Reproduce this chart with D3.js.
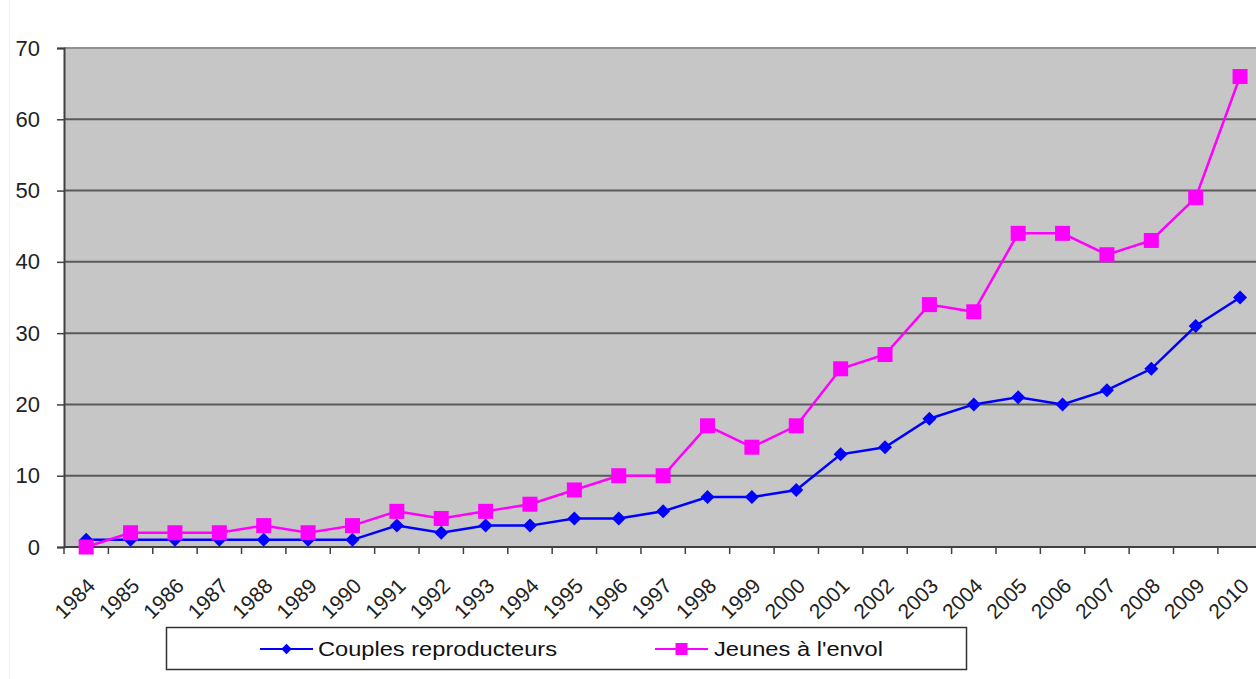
<!DOCTYPE html>
<html>
<head>
<meta charset="utf-8">
<script src="https://cdn.jsdelivr.net/npm/d3@7"></script>
<style>
	body { margin: 0; background: #fff; }
	svg { display: block; font-family: "Liberation Sans", Arial, sans-serif; }
</style>
</head>
<body>
<div id="chart"></div>
<script>
	// Data
	const years = ["1984", "1985", "1986", "1987", "1988", "1989", "1990", "1991", "1992", "1993", "1994", "1995", "1996", "1997", "1998", "1999", "2000", "2001", "2002", "2003", "2004", "2005", "2006", "2007", "2008", "2009", "2010"];
	const couples = [1, 1, 1, 1, 1, 1, 1, 3, 2, 3, 3, 4, 4, 5, 7, 7, 8, 13, 14, 18, 20, 21, 20, 22, 25, 31, 35];
	const jeunes = [0, 2, 2, 2, 3, 2, 3, 5, 4, 5, 6, 8, 10, 10, 17, 14, 17, 25, 27, 34, 33, 44, 44, 41, 43, 49, 66];
	const yTicks = [0, 10, 20, 30, 40, 50, 60, 70];

	const BLUE = "#0000FF";
	const MAGENTA = "#FF00FF";

	const width = 1256;
	const height = 679;
	const plot = { left: 64, top: 48, bottom: 547, step: 44.38 };

	const svg = d3.select("#chart")
		.append("svg")
		.attr("width", width)
		.attr("height", height);

	// faint frame line on the left
	svg.append("line")
		.attr("x1", 9.5).attr("x2", 9.5)
		.attr("y1", 0).attr("y2", height)
		.attr("stroke", "#f0f0f0");

	const x = d3.scaleBand()
		.domain(years)
		.range([plot.left, plot.left + plot.step * years.length]);
	const y = d3.scaleLinear().domain([0, 70]).range([plot.bottom, plot.top]);
	const cx = d => x(d) + x.bandwidth() / 2;

	// plot area
	svg.append("rect")
		.attr("x", plot.left)
		.attr("y", plot.top)
		.attr("width", width - plot.left)
		.attr("height", plot.bottom - plot.top)
		.attr("fill", "#C6C6C6");

	// gridlines
	svg.append("g")
		.selectAll("line")
		.data(yTicks.filter(v => v > 0))
		.join("line")
		.attr("x1", plot.left)
		.attr("x2", width)
		.attr("y1", d => y(d))
		.attr("y2", d => y(d))
		.attr("stroke", d => (d === 70 ? "#909090" : "#5a5a5a"))
		.attr("stroke-width", 2);

	// y axis
	const yAxis = svg.append("g")
		.attr("transform", `translate(${plot.left},0)`)
		.call(d3.axisLeft(y).tickValues(yTicks).tickSize(7).tickPadding(17));
	yAxis.select(".domain").attr("stroke", "#404040").attr("stroke-width", 2);
	yAxis.selectAll(".tick line").attr("stroke", "#404040").attr("stroke-width", 1.5);
	yAxis.selectAll(".tick text")
		.style("font-size", "22px")
		.attr("fill", "#222");

	// x axis: ticks sit between categories
	const xAxisG = svg.append("g");
	xAxisG.append("line")
		.attr("x1", plot.left).attr("x2", width)
		.attr("y1", plot.bottom).attr("y2", plot.bottom)
		.attr("stroke", "#404040").attr("stroke-width", 2);
	xAxisG.selectAll("line.tk")
		.data(years)
		.join("line")
		.attr("class", "tk")
		.attr("x1", d => x(d)).attr("x2", d => x(d))
		.attr("y1", plot.bottom).attr("y2", plot.bottom + 7)
		.attr("stroke", "#404040").attr("stroke-width", 1.5);
	xAxisG.selectAll("text")
		.data(years)
		.join("text")
		.attr("transform", d => `translate(${cx(d) + 5},${plot.bottom + 35}) rotate(-45)`)
		.attr("text-anchor", "end")
		.attr("dy", "0.35em")
		.style("font-size", "21px")
		.attr("fill", "#222")
		.text(d => d);

	// lines
	const line = d3.line().x((d, i) => cx(years[i])).y(d => y(d));

	svg.append("path")
		.datum(couples)
		.attr("fill", "none")
		.attr("stroke", BLUE)
		.attr("stroke-width", 2.5)
		.attr("d", line);

	svg.append("path")
		.datum(jeunes)
		.attr("fill", "none")
		.attr("stroke", MAGENTA)
		.attr("stroke-width", 2.5)
		.attr("d", line);

	const diamond = d3.symbol().type(d3.symbolDiamond2).size(125);

	svg.append("g")
		.selectAll("path")
		.data(couples)
		.join("path")
		.attr("d", diamond)
		.attr("transform", (d, i) => `translate(${cx(years[i])},${y(d)})`)
		.attr("fill", BLUE);

	svg.append("g")
		.selectAll("rect")
		.data(jeunes)
		.join("rect")
		.attr("x", (d, i) => cx(years[i]) - 7.5)
		.attr("y", d => y(d) - 7.5)
		.attr("width", 15)
		.attr("height", 15)
		.attr("fill", MAGENTA);

	// legend
	const legend = svg.append("g");
	legend.append("rect")
		.attr("x", 166.5).attr("y", 627.5)
		.attr("width", 800).attr("height", 42)
		.attr("fill", "#fff")
		.attr("stroke", "#333").attr("stroke-width", 1.5);

	const legendItems = [
		{ label: "Couples reproducteurs", color: BLUE, shape: "diamond", x0: 260, tx: 318, tw: 239 },
		{ label: "Jeunes à l'envol", color: MAGENTA, shape: "square", x0: 655, tx: 714, tw: 169 }
	];
	const ly = 649;
	legendItems.forEach(it => {
		legend.append("line")
			.attr("x1", it.x0).attr("x2", it.x0 + 53)
			.attr("y1", ly).attr("y2", ly)
			.attr("stroke", it.color).attr("stroke-width", 2);
		if (it.shape === "diamond") {
			legend.append("path")
				.attr("d", d3.symbol().type(d3.symbolDiamond2).size(70))
				.attr("transform", `translate(${it.x0 + 26.5},${ly})`)
				.attr("fill", it.color);
		} else {
			legend.append("rect")
				.attr("x", it.x0 + 26.5 - 6).attr("y", ly - 6)
				.attr("width", 12).attr("height", 12)
				.attr("fill", it.color);
		}
		legend.append("text")
			.attr("x", it.tx)
			.attr("y", ly)
			.attr("dy", "0.35em")
			.attr("textLength", it.tw)
			.attr("lengthAdjust", "spacingAndGlyphs")
			.style("font-size", "20px")
			.attr("fill", "#111")
			.text(it.label);
	});
</script>
</body>
</html>
